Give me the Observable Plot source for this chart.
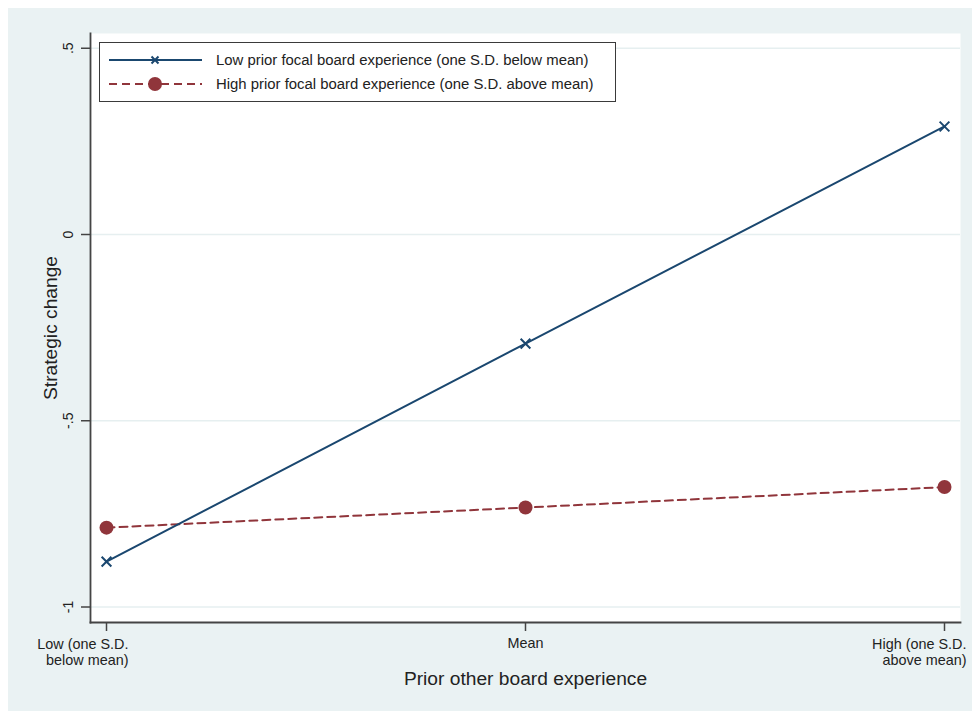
<!DOCTYPE html>
<html>
<head>
<meta charset="utf-8">
<script src="https://cdn.jsdelivr.net/npm/d3@7"></script>
<script src="https://cdn.jsdelivr.net/npm/@observablehq/plot@0.6"></script>
<style>
  html, body { margin: 0; padding: 0; background: #ffffff; }
  #wrap { position: relative; width: 972px; height: 711px; background: #ffffff; font-family: "Liberation Sans", Arial, sans-serif; }
  #panel { position: absolute; left: 8px; top: 8px; width: 964px; height: 703px; background: #eaf2f3; }
  #legend { position: absolute; left: 99px; top: 42px; width: 515px; height: 58px; background: #ffffff; border: 1.5px solid #3a3a3a; }
  #legend .row { position: absolute; left: 0; height: 20px; display: flex; align-items: center; }
  #legend .row span { font-size: 14.9px; color: #222; margin-left: 14px; white-space: nowrap; }
</style>
</head>
<body>
<div id="wrap">
  <div id="panel"></div>
  <div id="legend"></div>
</div>
<script>
// ---- data ----
const categories = ["Low (one S.D.\nbelow mean)", "Mean", "High (one S.D.\nabove mean)"];
const seriesNames = [
  "Low prior focal board experience (one S.D. below mean)",
  "High prior focal board experience (one S.D. above mean)"
];
const lowFocalValues = [-0.878, -0.293, 0.290];
const highFocalValues = [-0.787, -0.733, -0.678];
const yTicks = [-1, -0.5, 0, 0.5];
const yTickLabels = ["-1", "-.5", "0", ".5"];
const xTitle = "Prior other board experience";
const yTitle = "Strategic change";

const colors = ["#1a476f", "#90353b"];
const lowData = categories.map((c, i) => ({cat: c, value: lowFocalValues[i]}));
const highData = categories.map((c, i) => ({cat: c, value: highFocalValues[i]}));
const yLabelRows = yTicks.map((v, i) => ({v, label: yTickLabels[i]}));

const font = "'Liberation Sans', Arial, sans-serif";

const plot = Plot.plot({
  width: 964,
  height: 703,
  marginLeft: 82,
  marginRight: 12,
  marginTop: 25,
  marginBottom: 89,
  style: {background: "transparent", fontFamily: font, color: "#222", overflow: "visible"},
  x: {type: "point", domain: categories, padding: 0.038, axis: null},
  y: {domain: [-1.0416, 0.5396], axis: null},
  marks: [
    Plot.frame({fill: "white", stroke: "none"}),
    Plot.gridY(yTicks, {stroke: "#e6eff0", strokeOpacity: 1, strokeWidth: 1.5}),
    Plot.axisY({ticks: yTicks, tickSize: 9, tickFormat: () => "", label: null, stroke: "#444", strokeWidth: 1.5}),
    Plot.text(yLabelRows, {y: "v", text: "label", frameAnchor: "left", dx: -22, rotate: -90, textAnchor: "middle", fontSize: 14, fill: "#222"}),
    Plot.axisX({tickSize: 9, tickFormat: () => "", label: null, stroke: "#444", strokeWidth: 1.5}),
    Plot.text(categories.filter(c => c.includes("\n")), {x: d => d, frameAnchor: "bottom", dx: 22, dy: 15, textAnchor: "end", lineAnchor: "top", lineHeight: 1.1, fontSize: 14.4, fill: "#222"}),
    Plot.text(categories.filter(c => !c.includes("\n")), {x: d => d, frameAnchor: "bottom", dy: 15, textAnchor: "middle", lineAnchor: "top", fontSize: 14.4, fill: "#222"}),
    Plot.frame({anchor: "left", stroke: "#444", strokeWidth: 1.8}),
    Plot.frame({anchor: "bottom", stroke: "#444", strokeWidth: 1.8}),
    Plot.text([xTitle], {frameAnchor: "bottom", dy: 56, lineAnchor: "middle", fontSize: 19.2, fill: "#222"}),
    Plot.text([yTitle], {frameAnchor: "left", dx: -40, rotate: -90, textAnchor: "middle", lineAnchor: "middle", fontSize: 19.2, fill: "#222"}),
    Plot.line(highData, {x: "cat", y: "value", stroke: colors[1], strokeWidth: 2, strokeDasharray: "8,5"}),
    Plot.line(lowData, {x: "cat", y: "value", stroke: colors[0], strokeWidth: 2}),
    Plot.dot(highData, {x: "cat", y: "value", r: 7, fill: colors[1], stroke: "none"}),
    Plot.dot(lowData, {x: "cat", y: "value", symbol: "times", r: 4.5, stroke: colors[0], strokeWidth: 2})
  ]
});
document.getElementById("panel").appendChild(plot);

// ---- legend ----
const legend = d3.select("#legend");
const styles = [
  {color: colors[0], dash: null, marker: "x"},
  {color: colors[1], dash: "8,5", marker: "circle"}
];
seriesNames.forEach((name, i) => {
  const row = legend.append("div").attr("class", "row").style("top", (i === 0 ? 7 : 31) + "px").style("left", "9px");
  const svg = row.append("svg").attr("width", 93).attr("height", 20);
  svg.append("line").attr("x1", 0).attr("x2", 93).attr("y1", 10).attr("y2", 10)
    .attr("stroke", styles[i].color).attr("stroke-width", 2)
    .attr("stroke-dasharray", styles[i].dash);
  if (styles[i].marker === "x") {
    svg.append("path").attr("d", "M42.5,6.5L49.5,13.5M42.5,13.5L49.5,6.5")
      .attr("stroke", styles[i].color).attr("stroke-width", 2);
  } else {
    svg.append("circle").attr("cx", 46).attr("cy", 10).attr("r", 7).attr("fill", styles[i].color);
  }
  row.append("span").text(name);
});
</script>
</body>
</html>
